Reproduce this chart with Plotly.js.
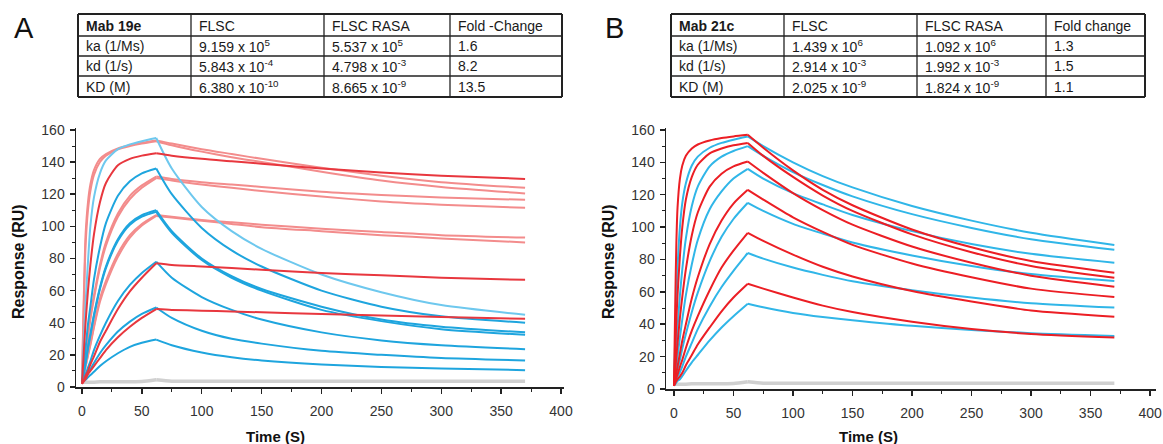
<!DOCTYPE html>
<html>
<head>
<meta charset="utf-8">
<script src="https://cdn.plot.ly/plotly-3.0.1.min.js"></script>
<style>html,body{margin:0;padding:0;background:#fff;}#chart{width:1163px;height:444px;}</style>
</head>
<body>
<div id="chart"></div>
<script>
// ---------------- DATA ----------------
const time = [0,1,2,3,5,7,10,15,20,30,40,50,62,75,100,125,150,200,250,300,370];
const injectionEnd = 62; // association ends / dissociation starts (s)

// Panel A (Mab 19e): red = FLSC, blue = FLSC RASA
const aPink1  = [2,40,70,95,115,126,135,142,145,148.5,150.5,152,153.5,151.5,148,145,142,136.5,131.5,127.5,124];
const aPink2  = [2,36,64,88,110,122,132,140,144,148,150,151.5,153,150.5,146.5,143,140,134,128.5,124.5,120.5];
const aRed145 = [2,15,28,40,60,76,95,115,127,138,142,144,145.5,144,142,140.5,139,136,133.5,131.5,129.5];
const aPink131a = [2,8,15,21,33,44,57,76,90,108,119,125.5,131,129.5,127.5,126,124.5,121.5,119.5,118,116.5];
const aPink131b = [2,7,14,20,31,42,55,74,88,106,117,124,130,128.5,126,124,122,118.5,115.5,113.5,111.5];
const aPink107a = [2,5,9,13,20,27,38,55,66,83,94.5,101.5,107,106,104,102.5,101,98.5,96.5,94.5,93];
const aPink107b = [2,4.5,8.5,12.5,19.5,26,37,53,64,81,93,100.5,106.5,105.5,103.5,101.5,99.5,97,94.5,92.5,90];
const aRed77  = [2,3.5,5,7,10,14,19,28,35,48.5,59.5,68,77,76,75,74,73,71,69.5,68,66.7];
const aRed49  = [2,3,4,5,8,10,13,18,23,31,37.5,43,48.5,48,47.5,47,46.5,45.5,44.5,43.5,42.5];
const aBlue155 = [2,20,37,52,78,100,118,133,141,148,151,153,155,136,112,97,86,70,59,51,45];
const aBlue136 = [3,9,17,24,39,50,67,87,102,119,128,133,136,120,99,85,75,60,50,44,40];
const aBlue110a = [3,7,11,15,25,33,45,62,75,92,102,107,110,97,80,69,61,50,42,37.5,34];
const aBlue110b = [3,6.5,10.5,14.5,24,32,44,61,74,91,101,106,109,96,79,68,60,48,41,36,32.5];
const aBlue78 = [3,5,6.5,8,12,16,23,32,40,53.5,63.5,71,78,68,56,48,42,34,29,26,23.5];
const aBlue49 = [3,4,5,6,9,11,15,21,26,34.5,40.7,45.5,49.5,43,35,30,27,22.5,20,18,16.5];
const aBlue30 = [3,3.5,4,4.5,6,7.5,9.5,13,16,21,25,27.5,29.5,26,21.5,18.5,16.5,14,12.5,11.5,10.5];
const aGray   = [3,3,3,3,3,3,3,3.2,3.2,3.3,3.3,3.4,4.5,3.6,3.6,3.6,3.6,3.6,3.6,3.6,3.6];

// Panel B (Mab 21c): red = FLSC, blue = FLSC RASA
const bRed157 = [2,50,90,112,130,138,144,148.5,151,153.5,155,156,157,149,135,123,113.5,98.5,87.5,79,71.8];
const bRed152 = [2,22,42,58,82,100,117,131,138.5,145.5,148.5,150.5,152,144,131,119.5,110,95.5,84.5,76,68.7];
const bRed140 = [2,11,20,28,44,57,74,95,109,125,133,137.5,140.5,133.5,121,110.5,101.5,88,78,70,63.2];
const bRed123 = [2,6.5,10,14,22,30,40,56,69,89.5,104,114.5,123,117,106,97,89,77.5,69,62,56.8];
const bRed96  = [2,4.5,7,9,13.7,18,25.3,36,45,61,75,85.5,96.5,91.5,83,75.5,69.5,60.5,54,48.5,44.7];
const bRed65  = [2,3.5,5,6,7.8,10,14.7,21,27.5,38,48,56.5,65,62,56.5,51.5,47.5,41.5,37,34,31.8];
const bBlue157 = [2,30,55,75,100,115,127,138,143.5,149,152,154,156,150,140,131.5,124.5,113,104,96.5,89];
const bBlue150 = [2,14,27,38,58,74,93,113,125,137.5,143.5,147,150,144,134,126,119,108,99.5,92.5,86];
const bBlue136 = [2,8,14,20,32,43,58,77,92,111,122,130,136,130,121,114,107.5,97.5,89.5,83.5,78];
const bBlue115 = [2,5.5,9,12,18,25,34,47.6,59.5,79,94,105,115,110,102,96,90.5,82.5,76,71,66.7];
const bBlue84  = [2,4,6,7.5,10.5,14,20,28.5,37,51,63,73,84,80.5,75,70.5,66.5,61,56.5,53,50.3];
const bBlue53  = [2,3,4,5,6,8,11.3,16.5,21,30,38,45,52.7,50.5,47,44.5,42.5,39,36.5,34.5,32.8];
const bGray    = [3,3,3,3,3,3,3,3.2,3.2,3.3,3.3,3.4,4.5,3.6,3.6,3.6,3.6,3.6,3.6,3.6,3.6];

// Tables
const tableAHeader = ['Mab 19e','FLSC','FLSC RASA','Fold -Change'];
const tableARows = [
  ['ka (1/Ms)','9.159 x 10<sup>5</sup>','5.537 x 10<sup>5</sup>','1.6'],
  ['kd (1/s)','5.843 x 10<sup>-4</sup>','4.798 x 10<sup>-3</sup>','8.2'],
  ['KD (M)','6.380 x 10<sup>-10</sup>','8.665 x 10<sup>-9</sup>','13.5']
];
const tableBHeader = ['Mab 21c','FLSC','FLSC RASA','Fold change'];
const tableBRows = [
  ['ka (1/Ms)','1.439 x 10<sup>6</sup>','1.092 x 10<sup>6</sup>','1.3'],
  ['kd (1/s)','2.914 x 10<sup>-3</sup>','1.992 x 10<sup>-3</sup>','1.5'],
  ['KD (M)','2.025 x 10<sup>-9</sup>','1.824 x 10<sup>-9</sup>','1.1']
];
const panelLetters = ['A','B'];
const xTitle = 'Time (S)';
const yTitle = 'Response (RU)';

// ---------------- LAYOUT ----------------
const W = 1163, H = 444;
const px = x => x / W;
const py = y => 1 - y / H;
const FONT = 'Liberation Sans, Arial, sans-serif';

const PINK = 'rgb(243,140,140)';
const REDA = 'rgb(232,55,62)';
const BLUEA = 'rgb(30,165,222)';
const LBLUE = 'rgb(110,200,238)';
const REDB = 'rgb(236,30,36)';
const BLUEB = 'rgb(48,182,232)';
const GRAY = 'rgb(208,208,208)';

const traces = [];
// each sensorgram is drawn as two smoothed pieces (association, dissociation) joined at the injection end
function tr(y, color, xa, ya, width) {
  const k = time.indexOf(injectionEnd);
  [[0, k + 1], [k, time.length]].forEach(([a, b]) => {
    traces.push({x: time.slice(a, b), y: y.slice(a, b), type: 'scatter', mode: 'lines', xaxis: xa, yaxis: ya,
      line: {color: color, width: width || 2, shape: 'spline', smoothing: 0.7},
      hoverinfo: 'skip', showlegend: false});
  });
}

tr(aGray, GRAY, 'x', 'y', 3.5);
[aPink1, aPink2, aPink131a, aPink131b, aPink107a, aPink107b].forEach(s => tr(s, PINK, 'x', 'y'));
tr(aBlue155, LBLUE, 'x', 'y');
[aBlue136, aBlue110a, aBlue110b, aBlue78, aBlue49, aBlue30].forEach(s => tr(s, BLUEA, 'x', 'y'));
[aRed145, aRed77, aRed49].forEach(s => tr(s, REDA, 'x', 'y'));
tr(bGray, GRAY, 'x2', 'y2', 3.5);
[bBlue157, bBlue150, bBlue136, bBlue115, bBlue84, bBlue53].forEach(s => tr(s, BLUEB, 'x2', 'y2'));
[bRed157, bRed152, bRed140, bRed123, bRed96, bRed65].forEach(s => tr(s, REDB, 'x2', 'y2'));

function xAxis(domain, range, anchor) {
  return {domain: domain, range: range, anchor: anchor, showgrid: false, zeroline: false,
    showline: true, linecolor: '#222', linewidth: 1.5, ticks: 'outside', ticklen: 5,
    tickwidth: 1.5, tickcolor: '#222', tick0: 0, dtick: 50, ticklabelstandoff: 6,
    minor: {ticks: 'outside', ticklen: 3, tickwidth: 1, tickcolor: '#222', dtick: 25, tick0: 0},
    tickfont: {family: FONT, size: 14, color: '#333'}, fixedrange: true};
}
function yAxis(domain, range, anchor) {
  return {domain: domain, range: range, anchor: anchor, showgrid: false, zeroline: false,
    showline: true, linecolor: '#222', linewidth: 1.5, ticks: 'outside', ticklen: 5,
    tickwidth: 1.5, tickcolor: '#222', tick0: 0, dtick: 20, ticklabelstandoff: 2,
    minor: {ticks: 'outside', ticklen: 3, tickwidth: 1, tickcolor: '#222', dtick: 10, tick0: 0},
    tickfont: {family: FONT, size: 14, color: '#333'}, fixedrange: true};
}

// table geometry (pixels)
const rowLines = [14, 36, 56, 76, 97];
const colsA = [78, 191, 324, 450, 562];
const colsB = [671, 784, 917, 1046, 1145];

const shapes = [];
const annotations = [];
function addTable(cols, header, rows) {
  rowLines.forEach((y, i) => {
    const outer = (i === 0 || i === rowLines.length - 1);
    shapes.push({type: 'line', xref: 'paper', yref: 'paper', x0: px(cols[0]), x1: px(cols[cols.length-1]),
      y0: py(y), y1: py(y), line: {color: '#222', width: outer ? 2 : 1.3}});
  });
  cols.forEach((x, i) => {
    const outer = (i === 0 || i === cols.length - 1);
    shapes.push({type: 'line', xref: 'paper', yref: 'paper', x0: px(x), x1: px(x),
      y0: py(rowLines[0]), y1: py(rowLines[rowLines.length-1]), line: {color: '#222', width: outer ? 2 : 1.3}});
  });
  const all = [header].concat(rows);
  all.forEach((row, r) => {
    const yc = (rowLines[r] + rowLines[r+1]) / 2;
    row.forEach((txt, c) => {
      annotations.push({xref: 'paper', yref: 'paper', x: px(cols[c] + 6), y: py(yc + 0.5),
        xanchor: 'left', yanchor: 'middle', showarrow: false,
        text: (r === 0 && c === 0) ? '<b>' + txt + '</b>' : txt,
        font: {family: FONT, size: 14, color: '#1a1a1a'}});
    });
  });
}
addTable(colsA, tableAHeader, tableARows);
addTable(colsB, tableBHeader, tableBRows);

// panel letters
[[12, panelLetters[0]], [603, panelLetters[1]]].forEach(([x, t]) => {
  annotations.push({xref: 'paper', yref: 'paper', x: px(x), y: py(28), xanchor: 'left', yanchor: 'middle',
    showarrow: false, text: t, font: {family: FONT, size: 29, color: '#111'}});
});
// axis titles
[[18, 275], [608, 868]].forEach(([yx, xx]) => {
  annotations.push({xref: 'paper', yref: 'paper', x: px(yx), y: py(262), xanchor: 'center', yanchor: 'middle',
    textangle: -90, showarrow: false, text: '<b>' + yTitle + '</b>', font: {family: FONT, size: 16, color: '#111'}});
  annotations.push({xref: 'paper', yref: 'paper', x: px(xx), y: py(436), xanchor: 'center', yanchor: 'middle',
    showarrow: false, text: '<b>' + xTitle + '</b>', font: {family: FONT, size: 15, color: '#111'}});
});

const layout = {
  width: W, height: H, margin: {l: 0, r: 0, t: 0, b: 0},
  paper_bgcolor: '#fff', plot_bgcolor: '#fff', showlegend: false,
  xaxis: xAxis([px(76), px(564)], [-5, 402.5], 'y'),
  yaxis: yAxis([py(387), py(128)], [0, 161.2], 'x'),
  xaxis2: xAxis([px(666), px(1156)], [-6.7, 405], 'y2'),
  yaxis2: yAxis([py(389), py(128)], [0, 161.2], 'x2'),
  shapes: shapes, annotations: annotations
};

Plotly.newPlot('chart', traces, layout, {staticPlot: true, displayModeBar: false});
</script>
</body>
</html>
